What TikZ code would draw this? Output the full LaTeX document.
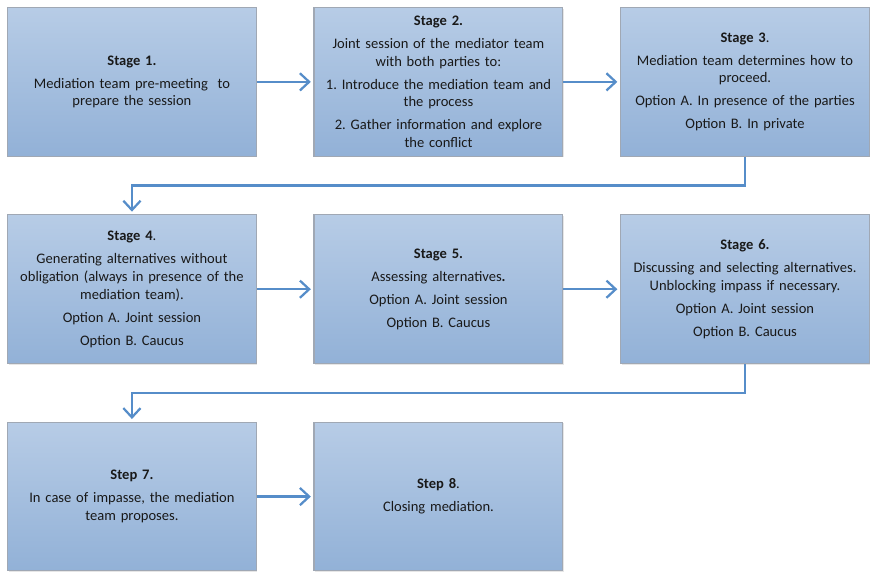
\documentclass[tikz,border=0pt]{standalone}
\usepackage{fontspec}
\setmainfont{Carlito}
\usepackage{xcolor}
\usepackage{tikz}
\usetikzlibrary{positioning,arrows.meta,calc,shadows}
\frenchspacing

\definecolor{boxtop}{RGB}{183,204,230}
\definecolor{boxbottom}{RGB}{146,177,215}
\definecolor{boxline}{RGB}{160,168,180}
\definecolor{flow}{RGB}{86,141,201}

\begin{document}
\begin{tikzpicture}[
  stagebox/.style={rectangle, minimum width=188.25pt, minimum height=112.5pt,
              text width=176pt, align=center, draw=boxline, line width=0.8pt,
              top color=boxtop, bottom color=boxbottom, text=black!90,
              font=\fontsize{11}{13.4}\selectfont,
              drop shadow={opacity=0.2, shadow xshift=0.8pt, shadow yshift=-0.8pt}},
  flowarrow/.style={draw=flow, line width=1.7pt,
              -{Straight Barb[length=7pt, width=13pt, line width=1.7pt]}, shorten >=2pt},
  node distance=43.5pt and 42.75pt
]

% Row 1
\node[stagebox] (s1) at (0,0)
  {\textbf{Stage 1.}\\[4pt]
   Mediation team pre-meeting\ \ to\\ prepare the session};
\node[stagebox, right=of s1] (s2)
  {\textbf{Stage 2.}\\[4pt]
   Joint session of the mediator team\\ with both parties to:\\[4pt]
   1. Introduce the mediation team and\\ the process\\[4pt]
   2. Gather information and explore\\ the conflict};
\node[stagebox, right=of s2] (s3)
  {\textbf{Stage 3}.\\[4pt]
   Mediation team determines how to\\ proceed.\\[4pt]
   Option A. In presence of the parties\\[4pt]
   Option B. In private};

% Row 2
\node[stagebox, below=of s1] (s4)
  {\textbf{Stage 4}.\\[4pt]
   Generating alternatives without\\ obligation (always in presence of the\\ mediation team).\\[4pt]
   Option A. Joint session\\[4pt]
   Option B. Caucus};
\node[stagebox, right=of s4] (s5)
  {\textbf{Stage 5.}\\[4pt]
   Assessing alternatives\textbf{.}\\[4pt]
   Option A. Joint session\\[4pt]
   Option B. Caucus};
\node[stagebox, right=of s5] (s6)
  {\textbf{Stage 6.}\\[4pt]
   Discussing and selecting alternatives.\\ Unblocking impass if necessary.\\[4pt]
   Option A. Joint session\\[4pt]
   Option B. Caucus};

% Row 3
\node[stagebox, below=of s4] (s7)
  {\textbf{Step 7.}\\[4pt]
   In case of impasse, the mediation\\ team proposes.};
\node[stagebox, right=of s7] (s8)
  {\textbf{Step 8}.\\[4pt]
   Closing mediation.};

% Arrows
\draw[flowarrow] (s1) -- (s2);
\draw[flowarrow] (s2) -- (s3);
\draw[flowarrow] (s3.south) -- ++(0,-21.75pt) -| (s4.north);
\draw[flowarrow] (s4) -- (s5);
\draw[flowarrow] (s5) -- (s6);
\draw[flowarrow] (s6.south) -- ++(0,-21.75pt) -| (s7.north);
\draw[flowarrow] (s7) -- (s8);

\useasboundingbox ($(s1.north west)+(-5.25pt,5.25pt)$) rectangle ++(652.5pt,-429.75pt);
\end{tikzpicture}
\end{document}
